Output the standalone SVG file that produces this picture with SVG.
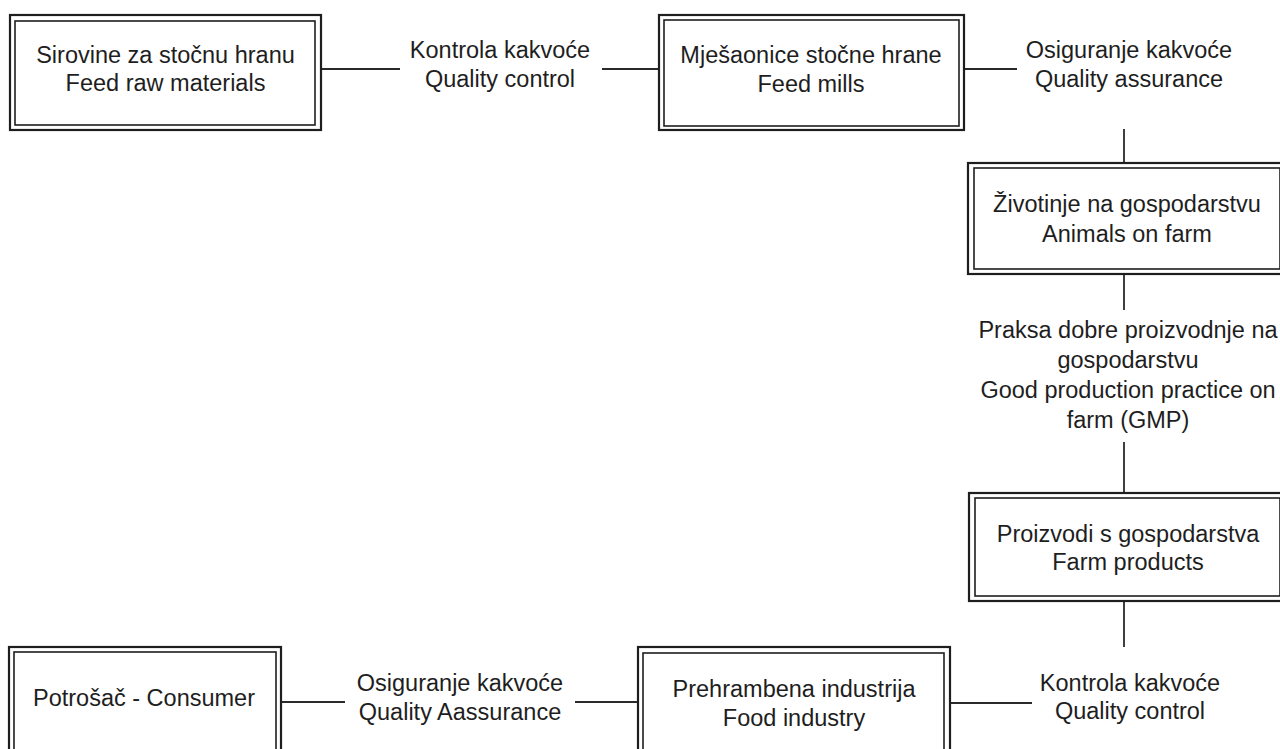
<svg xmlns="http://www.w3.org/2000/svg" width="1280" height="749" viewBox="0 0 1280 749">
<style>
.o{fill:none;stroke:#1e1e1e;stroke-width:2.2}
.i{fill:none;stroke:#1e1e1e;stroke-width:1.6}
.c{stroke:#2a2a2a;stroke-width:1.8;fill:none}
text{font-family:"Liberation Sans",Arial,sans-serif;font-size:23.5px;fill:#1e1e1e;text-anchor:middle}
</style>
<rect width="1280" height="749" fill="#ffffff"/>
<g id="connectors">
<line class="c" x1="321" y1="69" x2="400" y2="69"/>
<line class="c" x1="602" y1="69" x2="659" y2="69"/>
<line class="c" x1="964" y1="69" x2="1017" y2="69"/>
<line class="c" x1="1124" y1="129" x2="1124" y2="163"/>
<line class="c" x1="1124" y1="274" x2="1124" y2="310"/>
<line class="c" x1="1124" y1="442" x2="1124" y2="493"/>
<line class="c" x1="1124" y1="601" x2="1124" y2="647"/>
<line class="c" x1="950" y1="703" x2="1032" y2="703"/>
<line class="c" x1="575" y1="702" x2="638" y2="702"/>
<line class="c" x1="281" y1="702" x2="345" y2="702"/>
<g id="labels">
<text x="500" y="58">Kontrola kakvoće</text>
<text x="500" y="87">Quality control</text>
<text x="1129" y="58">Osiguranje kakvoće</text>
<text x="1129" y="87">Quality assurance</text>
<text x="1128" y="338">Praksa dobre proizvodnje na</text>
<text x="1128" y="368">gospodarstvu</text>
<text x="1128" y="398">Good production practice on</text>
<text x="1128" y="428">farm (GMP)</text>
<text x="1130" y="691">Kontrola kakvoće</text>
<text x="1130" y="719">Quality control</text>
<text x="460" y="691">Osiguranje kakvoće</text>
<text x="460" y="720">Quality Aassurance</text>
</g>
</g>
<g id="node-feed-raw">
<rect class="o" x="10" y="15" width="311" height="115"/>
<rect class="i" x="15" y="21" width="300" height="104"/>
<text x="165.5" y="63">Sirovine za stočnu hranu</text>
<text x="165.5" y="91">Feed raw materials</text>
</g>
<g id="node-feed-mills">
<rect class="o" x="659" y="15" width="305" height="115"/>
<rect class="i" x="664" y="20" width="295" height="106"/>
<text x="811" y="63">Mješaonice stočne hrane</text>
<text x="811" y="92">Feed mills</text>
</g>
<g id="node-animals">
<rect class="o" x="968" y="163" width="318" height="111"/>
<rect class="i" x="974" y="168" width="306" height="101"/>
<text x="1127" y="212">Životinje na gospodarstvu</text>
<text x="1127" y="242">Animals on farm</text>
</g>
<g id="node-farm-products">
<rect class="o" x="969" y="493" width="317" height="108"/>
<rect class="i" x="975" y="498" width="305" height="98"/>
<text x="1128" y="542">Proizvodi s gospodarstva</text>
<text x="1128" y="570">Farm products</text>
</g>
<g id="node-food-industry">
<rect class="o" x="638" y="647" width="312" height="113"/>
<rect class="i" x="643" y="653" width="301" height="102"/>
<text x="794" y="697">Prehrambena industrija</text>
<text x="794" y="726">Food industry</text>
</g>
<g id="node-consumer">
<rect class="o" x="9" y="647" width="272" height="113"/>
<rect class="i" x="14" y="652" width="262" height="103"/>
<text x="144" y="706">Potrošač - Consumer</text>
</g>
</svg>
